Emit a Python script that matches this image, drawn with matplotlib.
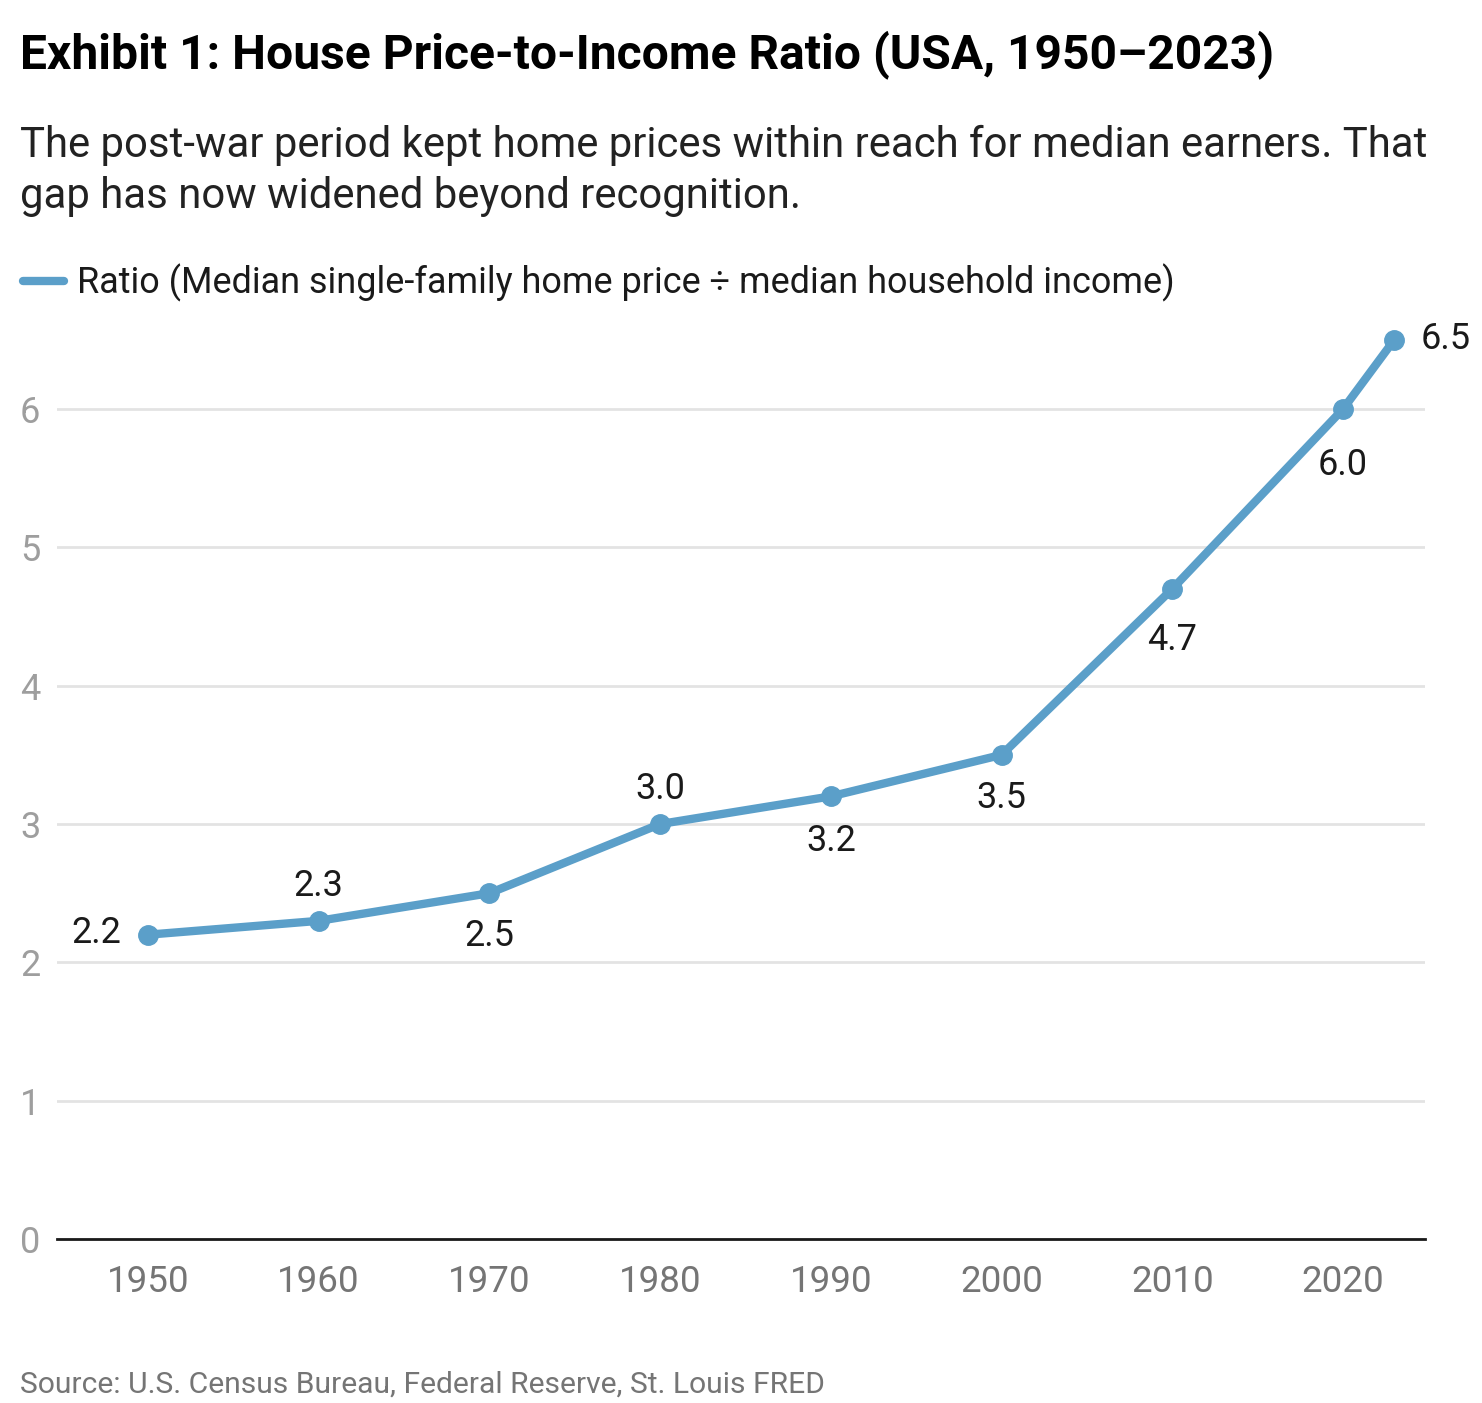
import matplotlib.pyplot as plt

plt.rcParams['font.family'] = ['Roboto', 'DejaVu Sans']

# data
years = [1950, 1960, 1970, 1980, 1990, 2000, 2010, 2020, 2023]
ratio = [2.2, 2.3, 2.5, 3.0, 3.2, 3.5, 4.7, 6.0, 6.5]
xticks = [1950, 1960, 1970, 1980, 1990, 2000, 2010, 2020]
yticks = [0, 1, 2, 3, 4, 5, 6]

blue = '#5b9fc9'

fig = plt.figure(figsize=(14.82, 14.03), dpi=100)
ax = fig.add_axes([57/1482, 1 - 1239/1403, (1425 - 57)/1482, (1239 - 339.9)/1403])

ax.plot(years, ratio, color=blue, lw=6, marker='o', ms=14, clip_on=False,
        solid_capstyle='round', zorder=3)

# label offsets in points (dx, dy, ha)
offs = [(-19, 1, 'right'), (0, 25, 'center'), (0, -31, 'center'), (0, 25, 'center'),
        (0, -32, 'center'), (0, -31, 'center'), (0, -37, 'center'), (0, -40, 'center'),
        (19, 1, 'left')]
for x, y, (dx, dy, ha) in zip(years, ratio, offs):
    ax.annotate(f'{y:.1f}', (x, y), xytext=(dx, dy), textcoords='offset points',
                ha=ha, va='center', fontsize=26, color='#1a1a1a')

ax.set_xlim(1944.67, 2024.8)
ax.set_ylim(0, 6.5)
ax.set_xticks(xticks)
ax.set_yticks(yticks)
ax.grid(axis='y', color='#e3e3e3', lw=2)
ax.set_axisbelow(True)
for s in ['top', 'right', 'left']:
    ax.spines[s].set_visible(False)
ax.spines['bottom'].set_color('#1a1a1a')
ax.spines['bottom'].set_linewidth(2)
ax.tick_params(axis='x', length=0, pad=18, labelsize=26.5, labelcolor='#757575')
ax.tick_params(axis='y', length=0, pad=0, labelsize=26, labelcolor='#9e9e9e')
for lbl in ax.get_yticklabels():
    lbl.set_horizontalalignment('left')
    lbl.set_x(-0.027)

fig.text(20/1482, 1 - 55/1403, 'Exhibit 1: House Price-to-Income Ratio (USA, 1950\u20132023)',
         fontsize=34.6, fontweight='bold', color='#000000', va='center')
fig.text(20/1482, 1 - 171/1403,
         'The post-war period kept home prices within reach for median earners. That\n'
         'gap has now widened beyond recognition.',
         fontsize=30.2, color='#222222', va='center', linespacing=1.32)
fig.lines.append(plt.Line2D([23/1482, 64/1482], [1 - 281/1403, 1 - 281/1403],
                            transform=fig.transFigure, color=blue, lw=6,
                            solid_capstyle='round'))
fig.text(77/1482, 1 - 283/1403,
         'Ratio (Median single-family home price \u00f7 median household income)',
         fontsize=25.9, color='#1a1a1a', va='center')
fig.text(20/1482, 1 - 1385/1403, 'Source: U.S. Census Bureau, Federal Reserve, St. Louis FRED',
         fontsize=21.6, color='#757575', va='center')

fig.savefig('out.png', dpi=100)
